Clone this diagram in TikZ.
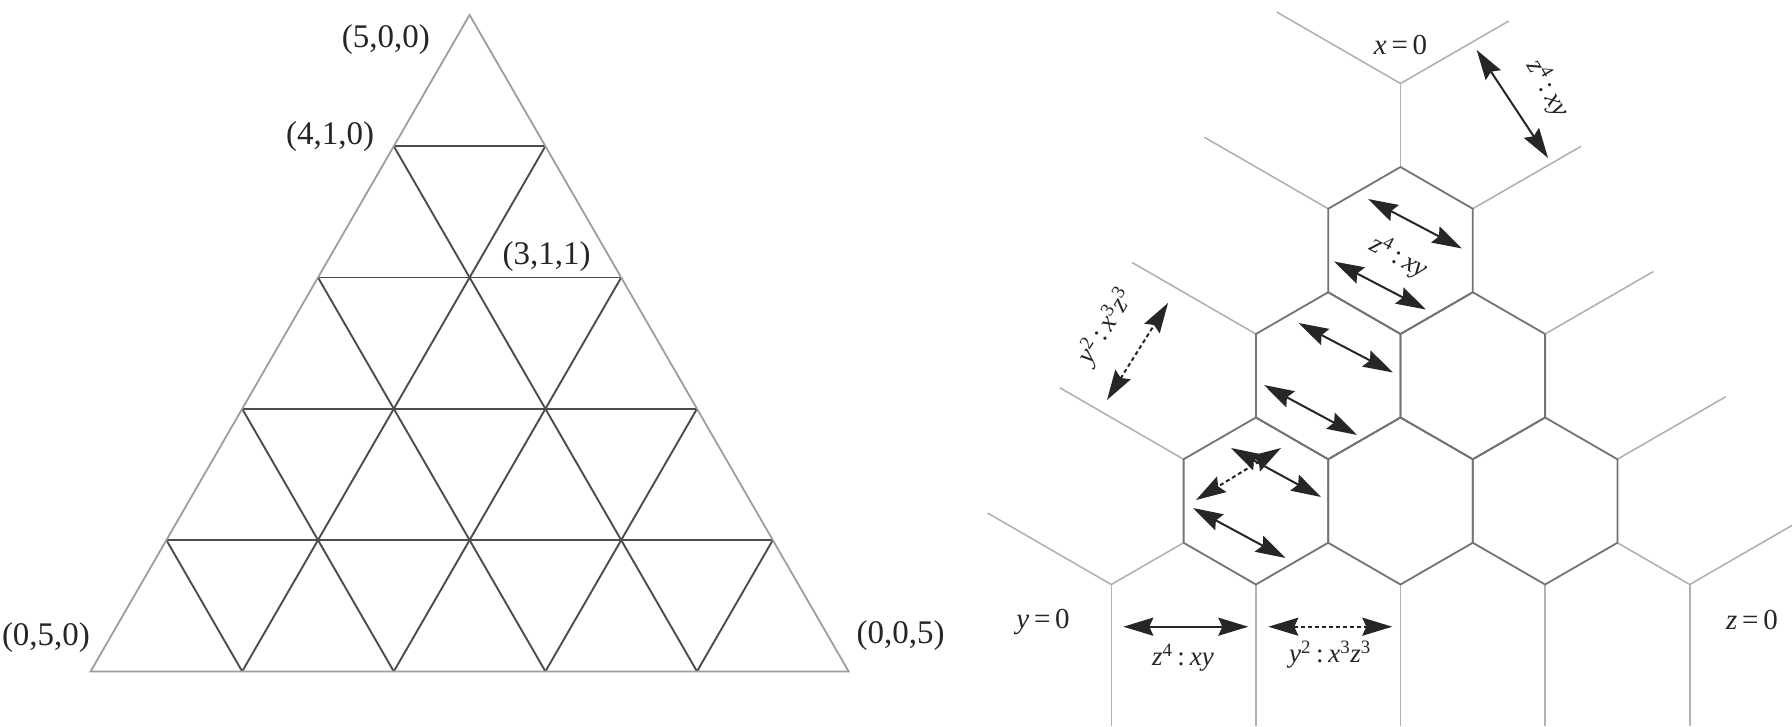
\documentclass[tikz,border=0pt]{standalone}
\usepackage{fontspec}
\setmainfont{Liberation Serif}
\usetikzlibrary{arrows.meta}
\newcommand{\iv}[1]{\textit{#1}}
\newcommand{\cl}{\hspace{0.18em}:\hspace{0.18em}}
\begin{document}
\begin{tikzpicture}[x=1pt,y=-1pt,
  outer/.style={draw=black!38, line width=1.8pt},
  inner/.style={draw=black!70, line width=1.9pt},
  hexedge/.style={draw=black!55, line width=1.8pt, line join=round},
  ray/.style={draw=black!30, line width=1.6pt},
  dbl/.style={line width=2pt, draw=black!85, {Stealth[length=30pt,width=18pt,inset=4pt]}-{Stealth[length=30pt,width=18pt,inset=4pt]}},
  dsh/.style={dash pattern=on 4pt off 3pt},
  lbl/.style={text=black!85, font=\fontsize{33}{36}\selectfont, inner sep=0pt},
  rlbl/.style={text=black!85, font=\fontsize{29}{32}\selectfont, inner sep=0pt},
  alb/.style={text=black!85, font=\fontsize{27}{30}\selectfont, inner sep=0pt},
]
\useasboundingbox[fill=white] (0,0) rectangle (1792,726);

% ---------------- left: triangle ----------------
\coordinate (apex) at (469.6,14.9);
\coordinate (bl) at (90.6,671.4);
\coordinate (br) at (848.6,671.4);
% interior horizontal lines
\foreach \r in {1,...,4}
  \draw[inner] ({469.6-(\r/2)*151.6},{14.9+\r*131.3}) -- ({469.6+(\r/2)*151.6},{14.9+\r*131.3});
% interior lines parallel to the left edge
\foreach \c in {1,...,4}
  \draw[inner] ({469.6+(\c/2)*151.6},{14.9+\c*131.3}) -- ({469.6+(\c-2.5)*151.6},671.4);
% interior lines parallel to the right edge
\foreach \d in {1,...,4}
  \draw[inner] ({469.6-(\d/2)*151.6},{14.9+\d*131.3}) -- ({469.6+(2.5-\d)*151.6},671.4);
% outer edges
\draw[outer] (apex) -- (bl) -- (br) -- cycle;

\node[lbl] (l500) at (385.8,39.4) {(5,0,0)};
\node[lbl] (l410) at (330,136.6) {(4,1,0)};
\node[lbl] (l311) at (546.5,257) {(3,1,1)};
\node[lbl] (l050) at (46,638) {(0,5,0)};
\node[lbl] (l005) at (900.6,635.4) {(0,0,5)};

% ---------------- right: tropical curve ----------------
\coordinate (A) at (1400.5,83.5);
\coordinate (JL) at (1111.3,584.5);
\coordinate (JR) at (1689.7,584.5);
% rays and outer edges
\draw[ray] (A) -- (1276.7,12);
\draw[ray] (A) -- (1508.8,21);
\draw[ray] (A) -- (1400.5,167);
\draw[ray] (1328.2,208.75) -- (1204.4,137.25);
\draw[ray] (1472.8,208.75) -- (1581.1,146.25);
\draw[ray] (1255.9,334) -- (1132.1,262.5);
\draw[ray] (1545.1,334) -- (1653.4,271.5);
\draw[ray] (1183.6,459.25) -- (1059.8,387.75);
\draw[ray] (1617.4,459.25) -- (1725.7,396.75);
\draw[ray] (1183.6,542.75) -- (JL) -- (987.5,513);
\draw[ray] (1617.4,542.75) -- (JR) -- (1792,525.4);
\foreach \x in {1111.3,1255.9,1400.5,1545.1,1689.7}
  \draw[ray] (\x,584.5) -- (\x,726);
% bounded hexagons
\foreach \cx/\cy in {1400.5/250.5, 1328.2/375.75, 1472.8/375.75, 1255.9/501, 1400.5/501, 1545.1/501}
  \draw[hexedge] ({\cx},{\cy-83.5}) -- ++(72.3,41.75) -- ++(0,83.5) -- ++(-72.3,41.75)
    -- ++(-72.3,-41.75) -- ++(0,-83.5) -- cycle;

% region labels
\node[rlbl] (x0) at (1400.5,45) {\iv{x}\,=\,0};
\node[rlbl] (y0) at (1043,622) {\iv{y}\,=\,0};
\node[rlbl] (z0) at (1752,620) {\iv{z}\,=\,0};

% arrows
\coordinate (t1a) at (1368,199);   \coordinate (t1b) at (1462,248.5);
\coordinate (t2a) at (1334,261.5); \coordinate (t2b) at (1426,309.5);
\coordinate (m1a) at (1298.5,323); \coordinate (m1b) at (1393,372.5);
\coordinate (m2a) at (1264,385);   \coordinate (m2b) at (1357,435);
\coordinate (b1a) at (1231,448);   \coordinate (b1b) at (1321,497);
\coordinate (b2a) at (1281,448);   \coordinate (b2b) at (1196,500);
\coordinate (b3a) at (1193,508);   \coordinate (b3b) at (1285.5,558);
\coordinate (ola) at (1107,400);   \coordinate (olb) at (1168,303);
\coordinate (ora) at (1476.7,50);  \coordinate (orb) at (1548,158);
\coordinate (h1a) at (1123.3,626.7); \coordinate (h1b) at (1248.3,626.7);
\coordinate (h2a) at (1268.3,626.7); \coordinate (h2b) at (1392.3,626.7);

\draw[dbl] (t1a) -- (t1b);
\draw[dbl] (t2a) -- (t2b);
\draw[dbl] (m1a) -- (m1b);
\draw[dbl] (m2a) -- (m2b);
\draw[dbl] (b1a) -- (b1b);
\draw[dbl,dsh] (b2a) -- (b2b);
\draw[dbl] (b3a) -- (b3b);
\draw[dbl,dsh] (ola) -- (olb);
\draw[dbl] (ora) -- (orb);
\draw[dbl] (h1a) -- (h1b);
\draw[dbl,dsh] (h2a) -- (h2b);

% arrow labels
\node[alb, rotate=-28] (lt) at (1399,257) {\iv{z}\textsuperscript{4}\cl\iv{xy}};
\node[alb, rotate=58] (lol) at (1105.7,326.7) {\iv{y}\textsuperscript{2}\cl\iv{x}\textsuperscript{3}\iv{z}\textsuperscript{3}};
\node[alb, rotate=-60] (lor) at (1548.3,88.3) {\iv{z}\textsuperscript{4}\cl\iv{xy}};
\node[alb] (lh1) at (1183,658) {\iv{z}\textsuperscript{4}\cl\iv{xy}};
\node[alb] (lh2) at (1330,655) {\iv{y}\textsuperscript{2}\cl\iv{x}\textsuperscript{3}\iv{z}\textsuperscript{3}};
\end{tikzpicture}
\end{document}
